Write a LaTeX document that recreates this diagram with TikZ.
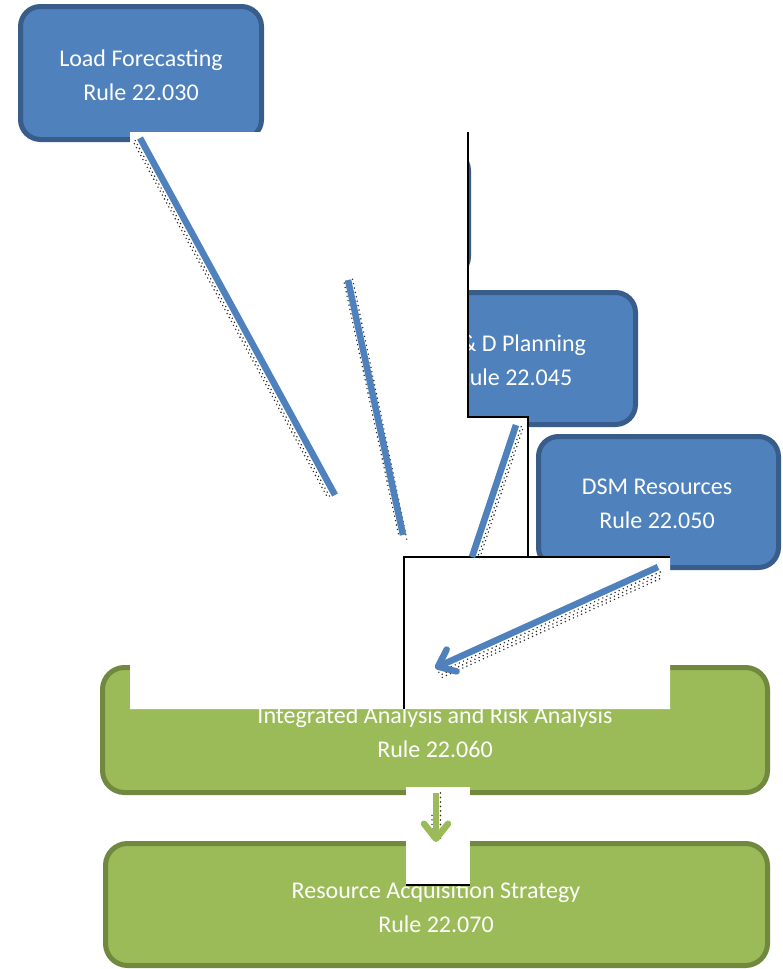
\documentclass[tikz,border=0pt]{standalone}
\usepackage{fontspec}
\setmainfont{Carlito}
\usetikzlibrary{arrows.meta,calc}
\definecolor{bfill}{HTML}{4F81BD}
\definecolor{bline}{HTML}{385D8A}
\definecolor{gfill}{HTML}{9BBB59}
\definecolor{gline}{HTML}{71893F}
\begin{document}
\begin{tikzpicture}[x=1pt,y=-1pt,
  bluebox/.style={fill=bfill,draw=bline,line width=5pt,rounded corners=20pt,inner sep=0pt},
  greenbox/.style={fill=gfill,draw=gline,line width=5pt,rounded corners=22pt,inner sep=0pt},
  lbl/.style={text=white,font=\fontsize{24}{34}\selectfont,align=center,inner sep=0pt},
  conn/.style={draw=bfill,line width=6.5pt},
  gconn/.style={draw=gfill,line width=6.5pt},
  headtip/.style={-{Straight Barb[length=15pt,width=24pt,round]}},
  shade/.style={draw=black!85,line width=1.6pt,dash pattern=on 0pt off 4.5pt,line cap=round},
  patch/.style={fill=white,draw=none},
  cutedge/.style={draw=black,line width=1.2pt}]
\useasboundingbox (0,0) rectangle (782,969);

% boxes
\node[bluebox,minimum width=241pt,minimum height=133pt] (lf) at (141,73) {};
\node[lbl] (lft) at (141,75.5) {Load Forecasting\\Rule 22.030};
\node[bluebox,minimum width=242pt,minimum height=126pt] (hid) at (347.5,213.5) {};
\node[bluebox,minimum width=241pt,minimum height=132pt] (td) at (515,358.5) {};
\node[lbl] (tdt) at (514.5,360) {T \& D Planning\\Rule 22.045};
\node[bluebox,minimum width=240pt,minimum height=131pt] (dsm) at (658.5,502) {};
\node[lbl] (dsmt) at (657,504) {DSM Resources\\Rule 22.050};
\node[greenbox,minimum width=665pt,minimum height=125pt] (ia) at (435,730) {};
\node[lbl] (iat) at (435,732) {Integrated Analysis and Risk Analysis\\Rule 22.060};
\node[greenbox,minimum width=662pt,minimum height=122pt] (ras) at (436.5,904.5) {};
\node[lbl] (rast) at (436,907) {Resource Acquisition Strategy\\Rule 22.070};

% white patch over the middle
\fill[patch] (130,132) -- (468,132) -- (468,417) -- (528,417) -- (528,557)
  -- (670,557) -- (670,709) -- (130,709) -- cycle;
\draw[cutedge] (468,132) -- (468,417) -- (528,417) -- (528,557);
\draw[cutedge] (670,557) -- (404,557) -- (404,709);

% connector end points
\coordinate (a1s) at (140,138);
\coordinate (a1e) at (335,495);
\coordinate (a2s) at (348,280);
\coordinate (a2e) at (403,535);
\coordinate (a3s) at (516,425);
\coordinate (a3e) at (472,557);
\coordinate (a4s) at (658,567);
\coordinate (a4e) at (435,668);

% shadows
\draw[shade] ($(a1s)+(-4.8,2.6)$) -- ($(a1e)+(-4.8,2.6)$);
\draw[shade,dash phase=2.2pt] ($(a1s)+(-6.8,3.7)$) -- ($(a1e)+(-6.8,3.7)$);
\draw[shade] ($(a2s)+(4.6,-0.8)$) -- ($(a2e)+(4.6,8)$);
\draw[shade,dash phase=2.2pt] ($(a2s)+(-4.2,0.8)$) -- ($(a2e)+(-4.2,0.8)$);
\draw[shade] ($(a3s)+(5.2,1.7)$) -- ($(a3e)+(5.2,1.7)$);
\draw[shade,dash phase=2.2pt] ($(a3s)+(7.2,2.4)$) -- ($(a3e)+(7.2,2.4)$);
\draw[shade] ($(a4s)+(2.2,5)$) -- ($(a4e)+(2.2,5)$);
\draw[shade,dash phase=2.2pt] ($(a4s)+(3.5,7.8)$) -- ($(a4e)+(3.5,7.8)$);
\draw[shade,dash phase=1.1pt] ($(a4s)+(4.7,10.5)$) -- ($(a4e)+(4.7,10.5)$);

% blue connectors
\draw[conn] (a1s) -- (a1e);
\draw[conn] (a2s) -- (a2e);
\draw[conn] (a3s) -- (a3e);
\draw[conn,headtip] (a4s) -- (a4e);

% lower patch and green connector
\fill[patch] (406,787) rectangle (470,885);
\draw[cutedge] (406,885) -- (470,885);
\coordinate (a5s) at (436,793);
\coordinate (a5e) at (436,842);
\draw[shade] ($(a5s)+(4.5,0)$) -- ($(a5e)+(4.5,0)$);
\draw[shade,dash phase=2.2pt] ($(a5s)+(-4,20)$) -- ($(a5e)+(-4,0)$);
\draw[gconn,headtip] (a5s) -- (a5e);
\end{tikzpicture}
\end{document}
